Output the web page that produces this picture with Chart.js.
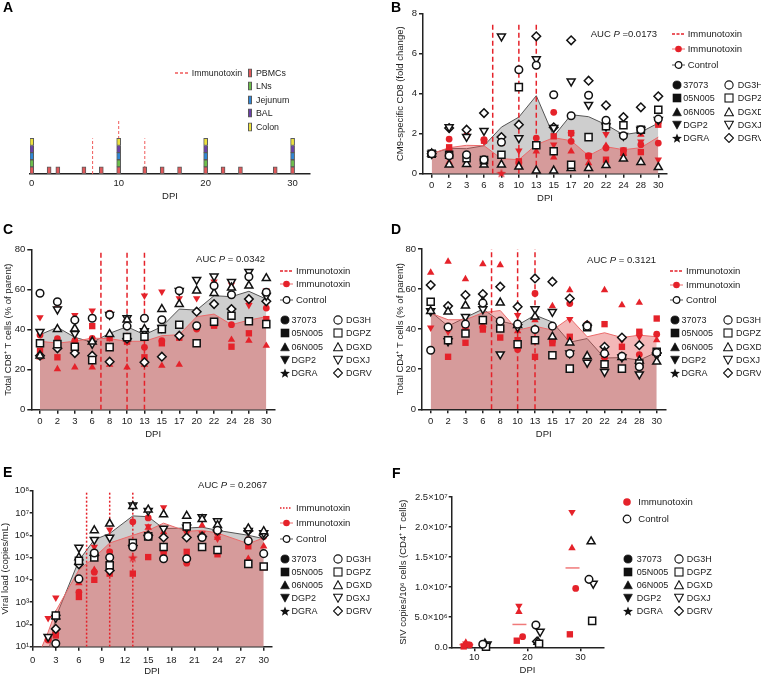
<!DOCTYPE html>
<html>
<head>
<meta charset="utf-8">
<title>Immunotoxin – SIV time course</title>
<script src="https://cdn.jsdelivr.net/npm/chart.js@4.4.1/dist/chart.umd.min.js"></script>
<style>
  html, body { margin: 0; padding: 0; background: #fff; }
  body { position: relative; width: 761px; height: 678px; overflow: hidden;
         font-family: "Liberation Sans", Arial, Helvetica, sans-serif; color: #222; }
  canvas { position: absolute; }
  .t { position: absolute; white-space: nowrap; line-height: 1; font-size: 9.5px; transform: translateY(-50%); }
  .t svg { display: block; }
  .small { font-size: 9px; }
  .tiny { font-size: 8.8px; }
  .right { transform: translate(-100%, -50%); }
  .panel { position: absolute; font-weight: bold; font-size: 14px; line-height: 14px; color: #000; }
</style>
</head>
<body>
<canvas id="chartA" width="380" height="215" style="left:0;top:0"></canvas>
<canvas id="chartB" width="381" height="215" style="left:380px;top:0"></canvas>
<canvas id="chartC" width="380" height="215" style="left:0;top:230px"></canvas>
<canvas id="chartD" width="381" height="215" style="left:380px;top:230px"></canvas>
<canvas id="chartE" width="380" height="218" style="left:0;top:460px"></canvas>
<canvas id="chartF" width="381" height="218" style="left:380px;top:460px"></canvas>

<div class="panel" style="left:3px;top:0">A</div>
<div class="panel" style="left:391px;top:0">B</div>
<div class="panel" style="left:3px;top:222px">C</div>
<div class="panel" style="left:391px;top:222px">D</div>
<div class="panel" style="left:3px;top:465px">E</div>
<div class="panel" style="left:392px;top:466px">F</div>

<script>
// ---- data ----
const days = [0, 2, 3, 6, 8, 10, 13, 15, 17, 20, 22, 24, 28, 30];
const doseDays = [7, 10, 13];
const immunoAnimals = ['37073', '05N005', '06N005', 'DGP2', 'DGRA'];
const controlAnimals = ['DG3H', 'DGPZ', 'DGXD', 'DGXJ', 'DGRV'];

// A: sampling schedule
const tissues = ['PBMCs', 'LNs', 'Jejunum', 'BAL', 'Colon'];
const tissueDays = [days, [0, 10, 20, 30], [0, 10, 20, 30], [0, 10, 20, 30], [0, 10, 20, 30]];

// B: CM9-specific CD8 (fold change); rows follow immunoAnimals / controlAnimals
const bImmuno = [
  [1.0, 1.73, 1.9, 1.7, 1.57, 0.55, 1.78, 3.07, 1.62, 0.9, 1.28, 1.17, 1.45, 1.53],
  [1.0, 1.32, 0.75, 1.65, 1.55, 0.62, 1.42, 1.87, 2.03, 0.88, 0.7, 1.05, 1.08, 2.45],
  [1.0, 0.58, 0.75, 0.53, 0.45, 0.45, 1.12, 0.82, 1.12, 0.53, 1.4, 1.0, 1.95, 2.62],
  [1.0, 1.1, 1.85, 1.6, 0.9, 1.15, 1.45, 1.45, 1.95, 0.85, 1.98, 1.2, 1.6, 0.7],
  [null, null, null, null, 0.03, null, null, null, null, null, null, null, null, null]
];
const bControl = [
  [1.0, 0.9, 0.95, 0.7, 1.57, 5.2, 5.42, 3.95, 2.9, 3.92, 2.67, 1.9, 2.2, 2.73],
  [1.0, 0.95, 0.78, 0.68, 0.95, 4.33, 1.42, 1.12, 0.45, 1.83, 2.37, 2.42, 2.2, 3.2],
  [1.0, 0.45, 0.48, 0.45, 0.45, 0.35, 0.15, 0.15, 0.28, 0.28, 0.42, 0.75, 0.58, 0.32],
  [1.0, 2.33, 1.85, 2.15, 6.87, 1.78, 5.73, 2.3, 4.62, 3.45, 2.37, 1.9, 2.2, 2.7],
  [1.0, 2.28, 2.2, 3.03, 1.83, 2.45, 6.87, 2.32, 6.67, 4.65, 3.42, 2.83, 3.32, 3.87]
];
const bImmunoMean = [1.0, 1.3, 1.42, 1.4, 0.75, 0.7, 1.45, 1.8, 1.65, 0.9, 1.35, 1.2, 1.3, 1.83];
const bControlMean = [1.0, 1.27, 1.25, 1.4, 2.33, 2.83, 3.9, 1.87, 2.95, 2.85, 2.45, 1.95, 2.08, 2.53];

// C: total CD8+ T cells (% of parent)
const cImmuno = [
  [37.3, 35.5, 34.5, 35.7, 48.3, 34.5, 31.2, 34.5, 37, 40.3, 42.5, 42.5, 54.8, 50.8],
  [29.5, 26.2, 33.3, 41.8, 35.8, 34, 26.2, 33.2, 36, 41.5, 42, 31.5, 38.2, 45.3],
  [26.2, 20.3, 21.2, 21.2, 22.5, 21.2, 22.5, 22, 22.5, 41, 42.5, 35, 34.5, 32],
  [46.2, 50.7, 47.3, 49.5, 36, 44, 57, 59, 55.7, 55.7, 64, 62.5, 52.3, 59.5],
  [null, null, null, null, null, null, null, null, null, null, null, null, null, null]
];
const cControl = [
  [58.2, 54, 44.8, 45.7, 47.5, 41.8, 45.7, 45, 59.5, 42, 62, 57.5, 66.5, 58.7],
  [33.2, 32.8, 31.5, 24.8, 31.3, 36.3, 36.5, 40.3, 42.5, 33.2, 44, 47, 44.2, 42.8],
  [27, 40.3, 40.5, 34, 37.8, 45, 40.3, 50.3, 52.8, 59.5, 58.3, 61, 62, 65.7],
  [39, 50.2, 38, 33, 47.5, 45.8, 39.3, 41, 59.5, 65, 66.7, 64, 69, 57],
  [27, 30.7, 28.3, 27, 24, 35.5, 23.7, 26.5, 37, 49, 52.8, 50.3, 55.3, 54.2]
];
const cImmunoMean = [34.2, 33.3, 34.2, 35.8, 35.5, 34.2, 34.2, 37, 37.5, 46.5, 47.8, 42.5, 44.8, 46.5];
const cControlMean = [37.5, 41.2, 36.2, 33.7, 38.2, 41.5, 37.5, 41.5, 50.3, 49.8, 57, 56.5, 59.2, 55.3];

// D: total CD4+ T cells (% of parent)
const dImmuno = [
  [29.5, 41.5, 40.8, 41, 40.5, 29.8, 57.8, 34, 52.8, 42.5, 26.2, 26.5, 27.3, 37.5],
  [53.5, 26.2, 33.2, 39.8, 35.8, 34.5, 26.2, 33, 36.2, 41, 42.5, 31.2, 38.7, 45.3],
  [68.2, 73.7, 65, 72.5, 72, 39, 44.5, 51.5, 59.5, 42, 59.5, 52, 53.2, 34.5],
  [40.7, 38.7, 41.5, 40.5, 40.3, 47, 33.7, 34, 45, 41.5, 24.5, 34.5, 36.2, 27],
  [null, null, null, null, null, null, null, null, null, null, null, null, null, null]
];
const dControl = [
  [29.5, 41, 42.5, 53, 44, 42.5, 39.8, 41.5, 27.8, 41.5, 27.8, 26.5, 21.2, 28.3],
  [53.7, 34.5, 37.8, 44.5, 40.3, 32.5, 34.5, 27, 20.3, 41, 22.5, 20.3, 22.8, 28.7],
  [49, 48.7, 51.7, 53.7, 53.2, 42, 46.2, 36.2, 33.3, 26.5, 28.7, 26, 24.2, 23.7],
  [49, 34, 46.2, 50, 27.5, 41, 50, 48.7, 28, 23.3, 18.7, 26, 17.5, 27],
  [62, 51.5, 57, 57.5, 61.2, 51.2, 65.3, 63.7, 55.3, 42, 31.2, 35.8, 32, 28]
];
const dImmunoMean = [48, 44.7, 44.7, 48.2, 49.3, 39.5, 41.5, 39.5, 45.6, 36.2, 38.2, 35.8, 37, 36.2];
const dControlMean = [48.7, 41.5, 45.8, 50, 44, 42, 47, 43.5, 33.5, 35.3, 25.6, 25.8, 24.5, 28.5];

// E: viral load (copies/mL)
const eDays = [0, 2, 3, 6, 8, 10, 13, 15, 17, 20, 22, 24, 28, 30];
const eImmuno = [
  [null, 20, 40, 2.8e3, 2.2e4, 1.8e5, 4.0e6, 6.0e6, 2.0e5, 5.6e4, 8.3e5, 1.26e6, 6.3e5, 8.9e5],
  [null, 25, 32, 1.7e3, 1.0e4, 1.9e4, 1.9e4, 1.05e5, 1.4e5, 1.8e5, 2.8e5, 1.4e5, 3.2e5, 3.7e4],
  [null, null, 63, 7.1e3, 2.8e4, 5.2e4, 4.0e5, 2.2e6, 1.4e6, 2.0e6, 2.8e6, 7.9e5, 8.9e4, 3.2e5],
  [null, 190, 1.6e3, 5.6e4, 3.0e5, 1.8e6, 5.0e5, 2.5e6, 1.8e7, 1.26e6, 1.2e6, 7.1e5, 4.0e5, 1.2e6],
  [null, null, null, null, null, 5.6e4, 1.0e5, null, null, null, null, null, null, null]
];
const eControl = [
  [null, null, 14, 1.1e4, 1.6e5, 1.0e5, 3.0e5, 8.9e5, 8.9e4, 8.9e4, 7.9e5, 1.66e6, 5.6e5, 1.5e5],
  [null, null, 250, 7.1e4, 1.0e5, 4.5e4, 4.5e5, 8.9e5, 3.0e5, 2.5e6, 3.0e5, 2.2e5, 5.2e4, 4.0e4],
  [null, null, 230, 1.0e5, 1.66e6, 3.3e6, 2.0e7, 1.4e7, 8.5e6, 7.4e6, 5.2e6, 2.8e6, 2.0e6, 1.5e6],
  [null, 28, 200, 2.8e5, 6.3e5, 8.0e5, 2.2e7, 1.26e7, 2.0e6, 2.2e6, 6.6e6, 4.3e6, 1.6e6, 1.26e6],
  [null, null, 63, 5.0e4, 1.26e5, 2.6e4, 3.5e5, 1.0e6, 8.0e5, 8.0e5, 8.9e5, 1.6e6, 1.6e6, 1.0e6]
];
const eImmunoMean = [1, 45, 400, 2.8e4, 1.0e5, 4.5e5, 1.0e6, 1.66e6, 3.5e6, 1.5e6, 1.66e6, 1.26e6, 4.2e5, 7.6e5];
const eControlMean = [1, 5, 210, 7.4e4, 6.3e5, 1.2e6, 7.4e6, 6.8e6, 2.0e6, 2.1e6, 2.3e6, 1.66e6, 1.0e6, 7.0e5];
const eTicks = [1e1, 1e2, 1e3, 1e4, 1e5, 1e6, 1e7, 1e8];
const eDayTicks = [0, 3, 6, 9, 12, 15, 18, 21, 24, 27, 30];

// F: SIV copies / 10^6 CD4+ T cells
const fDays = [10, 20, 30];
const fImmuno = [
  [4.0e5, 1.77e6, 9.8e6],
  [1.5e5, 1.1e6, 2.16e6],
  [8.0e5, 5.9e6, 1.65e7],
  [6.0e5, 6.9e6, 2.25e7],
  [null, null, null]
];
const fControl = [
  [5.0e5, 3.7e6, 1.13e7],
  [1.0e5, 6.0e5, 4.4e6],
  [6.0e5, 9.0e5, 1.76e7],
  [5.0e5, 2.6e6, 1.06e7],
  [3.5e5, 9.5e5, null]
];
const fImmunoMean = [4.5e5, 3.8e6, 1.32e7];
const fTicks = [0, 5e6, 1e7, 1.5e7, 2e7, 2.5e7];

// ---- styling ----
const INK = '#222';
const RED = '#e5222a';
const RED_LINE = '#eb6a6a';
const RED_FILL = 'rgba(226, 86, 86, 0.42)';
const GREY_FILL = '#cecece';
const GREY_LINE = '#555';
const tissueColors = ['#e0585a', '#6cbf4b', '#2f86d6', '#6a40a8', '#ece23c'];

Chart.defaults.font.family = '"Liberation Sans", Arial, Helvetica, sans-serif';
Chart.defaults.font.size = 9.5;
Chart.defaults.color = INK;

const SUP = {'0': '⁰', '1': '¹', '2': '²', '3': '³', '4': '⁴', '5': '⁵', '6': '⁶', '7': '⁷', '8': '⁸', '9': '⁹'};
const sup = n => String(n).split('').map(c => SUP[c]).join('');

function starCanvas(size, color) {
  const c = document.createElement('canvas');
  c.width = c.height = size;
  const g = c.getContext('2d');
  g.fillStyle = color;
  g.beginPath();
  for (let i = 0; i < 10; i++) {
    const r = i % 2 ? size * 0.21 : size * 0.5;
    const a = -Math.PI / 2 + i * Math.PI / 5;
    g.lineTo(size / 2 + r * Math.cos(a), size / 2 + 0.5 + r * Math.sin(a));
  }
  g.closePath();
  g.fill();
  return c;
}

const immunoShapes = [
  {pointStyle: 'circle', pointRadius: 3.4},
  {pointStyle: 'rect', pointRadius: 4.5},
  {pointStyle: 'triangle', pointRadius: 4.3},
  {pointStyle: 'triangle', pointRadius: 4.3, pointRotation: 180},
  {pointStyle: starCanvas(10, RED), pointRadius: 5}
];
const controlShapes = [
  {pointStyle: 'circle', pointRadius: 3.8},
  {pointStyle: 'rect', pointRadius: 5},
  {pointStyle: 'triangle', pointRadius: 4.6},
  {pointStyle: 'triangle', pointRadius: 4.6, pointRotation: 180},
  {pointStyle: 'rectRot', pointRadius: 4.3}
];

function dayToIndex(d) {
  for (let i = 0; i < days.length - 1; i++) {
    if (d >= days[i] && d <= days[i + 1]) return i + (d - days[i]) / (days[i + 1] - days[i]);
  }
  return days.length - 1;
}

function pointSet(values, xs, shape, immuno) {
  const data = [];
  values.forEach((v, i) => { if (v !== null) data.push({x: xs[i], y: v}); });
  return Object.assign({
    type: 'line', data, showLine: false, clip: false,
    pointBackgroundColor: immuno ? RED : '#fff',
    pointBorderColor: immuno ? RED : '#111',
    pointBorderWidth: immuno ? 0 : 1.5,
    order: immuno ? 1 : 0
  }, shape);
}

function areaSet(values, xs, fillColor, lineColor, order) {
  return {
    type: 'line', data: values.map((v, i) => ({x: xs[i], y: v})),
    fill: 'start', backgroundColor: fillColor, borderColor: lineColor,
    borderWidth: 1, pointRadius: 0, tension: 0, order
  };
}

function doseSet(x, y0, y1, dash, width, color) {
  return {
    type: 'line', data: [{x, y: y0}, {x, y: y1}], borderColor: color,
    borderWidth: width, borderDash: dash, pointRadius: 0, fill: false, order: 2
  };
}

function axis(o) {
  const bottom = o.position === 'bottom';
  return {
    type: o.type || 'linear', position: o.position, min: o.min, max: o.max, offset: false,
    border: {display: true, color: INK, width: 1.5},
    grid: {drawOnChartArea: false, drawTicks: o.tick !== 0, tickLength: o.tick === undefined ? 4 : o.tick,
           color: INK, lineWidth: 1.5, offset: false},
    ticks: {color: INK, font: {size: 9.5}, padding: o.pad === undefined ? 2 : o.pad,
            maxRotation: 0, autoSkip: false, callback: o.label || (v => v)},
    afterBuildTicks: a => { a.ticks = o.ticks.map(value => ({value})); },
    afterFit: a => { if (bottom) a.height = o.size; else a.width = o.size; },
    title: {display: true, text: o.title, color: INK, font: {size: 9.5},
            padding: bottom ? {top: 0, bottom: 0} : {top: o.tpad || 0, bottom: 0}}
  };
}

function options(padding, scales) {
  return {
    responsive: false, animation: false, devicePixelRatio: 1, events: [],
    layout: {padding},
    plugins: {legend: {display: false}, tooltip: {enabled: false}},
    scales
  };
}

// ---- panel A ----
const aSets = tissues.map((name, t) => ({
  type: 'bar', label: name,
  data: tissueDays[t].map(d => ({x: d, y: 1})),
  backgroundColor: tissueColors[t], borderColor: '#5a5a5a', borderWidth: 1, borderSkipped: false,
  barThickness: 4, stack: 'samples', order: 1
}));
const doseMarkHeights = [5, 7.5, 5];
doseDays.forEach((d, i) => {
  const s = doseSet(d, 0, doseMarkHeights[i], [3, 2], 1, '#f05a5a');
  s.stack = 'dose' + i;
  aSets.push(s);
});
const aX = axis({position: 'bottom', min: -0.2, max: 32, ticks: [0, 10, 20, 30], tick: 0, pad: 4, size: 28.4, title: 'DPI'});
aX.stacked = true;
new Chart(document.getElementById('chartA'), {
  type: 'bar',
  data: {datasets: aSets},
  options: options({left: 30, right: 70, top: 117, bottom: 12.6},
    {x: aX, y: {display: false, min: 0, max: 8, stacked: true}})
});

// ---- panels B, C, D, E ----
function timeCourse(id, p) {
  const sets = [
    areaSet(p.controlMean, p.xs, GREY_FILL, GREY_LINE, 4),
    areaSet(p.immunoMean, p.xs, RED_FILL, RED_LINE, 3)
  ];
  doseDays.forEach(d => sets.push(doseSet(p.doseX(d), p.yMin, p.doseTop, p.dash, 1.5, RED)));
  p.immuno.forEach((row, a) => sets.push(pointSet(row, p.xs, immunoShapes[a], true)));
  p.control.forEach((row, a) => sets.push(pointSet(row, p.xs, controlShapes[a], false)));
  new Chart(document.getElementById(id), {
    type: 'line',
    data: {datasets: sets},
    options: options(p.padding, {x: p.x, y: p.y})
  });
}

const idx = days.map((d, i) => i);
const dayLabel = v => days[v];

timeCourse('chartB', {
  xs: idx, doseX: dayToIndex, yMin: 0, doseTop: 7.55, dash: [5, 3],
  immuno: bImmuno, control: bControl, immunoMean: bImmunoMean, controlMean: bControlMean,
  padding: {left: 0, right: 94, top: 13.7, bottom: 11},
  x: axis({position: 'bottom', min: -0.5, max: 13.5, ticks: idx, label: dayLabel, pad: 2.1, size: 30.3, title: 'DPI'}),
  y: axis({position: 'left', min: 0, max: 8, ticks: [0, 2, 4, 6, 8], size: 43, tpad: 14.3,
           title: 'CM9-specific CD8 (fold change)'})
});

timeCourse('chartC', {
  xs: idx, doseX: dayToIndex, yMin: 0, doseTop: 80, dash: [5, 3],
  immuno: cImmuno, control: cControl, immunoMean: cImmunoMean, controlMean: cControlMean,
  padding: {left: 0, right: 105, top: 19.7, bottom: 5.3},
  x: axis({position: 'bottom', min: -0.5, max: 13.5, ticks: idx, label: dayLabel, pad: 2.1, size: 30, title: 'DPI'}),
  y: axis({position: 'left', min: 0, max: 80, ticks: [0, 20, 40, 60, 80], size: 31.3, tpad: 2.6,
           title: 'Total CD8⁺ T cells (% of parent)'})
});

timeCourse('chartD', {
  xs: idx, doseX: dayToIndex, yMin: 0, doseTop: 80, dash: [5, 3],
  immuno: dImmuno, control: dControl, immunoMean: dImmunoMean, controlMean: dControlMean,
  padding: {left: 0, right: 95.6, top: 19, bottom: 5.3},
  x: axis({position: 'bottom', min: -0.5, max: 13.5, ticks: idx, label: dayLabel, pad: 2.2, size: 30.4, title: 'DPI'}),
  y: axis({position: 'left', min: 0, max: 80, ticks: [0, 20, 40, 60, 80], size: 42, tpad: 14.3,
           title: 'Total CD4⁺ T cells (% of parent)'})
});

timeCourse('chartE', {
  xs: eDays, doseX: d => d, yMin: 10, doseTop: 1e8, dash: [2, 2],
  immuno: eImmuno, control: eControl, immunoMean: eImmunoMean, controlMean: eControlMean,
  padding: {left: 0, right: 108.6, top: 30.7, bottom: 0.6},
  x: axis({position: 'bottom', min: 0, max: 31, ticks: eDayTicks, pad: 4.1, size: 30.7, title: 'DPI'}),
  y: axis({position: 'left', type: 'logarithmic', min: 10, max: 1e8, ticks: eTicks, tick: 3, pad: 0.5,
           label: v => '10' + sup(Math.round(Math.log10(v))), size: 32.7, tpad: 0,
           title: 'Viral load (copies/mL)'})
});

// ---- panel F ----
const fImmunoOffset = [-0.9, -2.0, -1.6, -1.6, -1.4];
const fControlOffset = [1.6, 2.2, 2.0, 2.4, 1.8];
const fMeanOffset = -1.5;
const fSets = [];
fImmuno.forEach((row, a) => fSets.push(pointSet(row, fDays.map(d => d + fImmunoOffset[a]), immunoShapes[a], true)));
fControl.forEach((row, a) => fSets.push(pointSet(row, fDays.map(d => d + fControlOffset[a]), controlShapes[a], false)));
fSets.push({
  type: 'line', showLine: false, clip: false, order: 2,
  data: fImmunoMean.map((v, i) => ({x: fDays[i] + fMeanOffset, y: v})),
  pointStyle: 'line', pointRadius: 7, pointBorderColor: '#f07a7a', pointBorderWidth: 1.5
});
const fLabel = v => {
  if (v === 0) return '0.0';
  const e = Math.floor(Math.log10(v) + 1e-9);
  return (v / Math.pow(10, e)).toFixed(1) + '×10' + sup(e);
};
new Chart(document.getElementById('chartF'), {
  type: 'line',
  data: {datasets: fSets},
  options: options({left: 0, right: 157.7, top: 37, bottom: 1.6}, {
    x: axis({position: 'bottom', min: 5.74, max: 34.3, ticks: fDays, pad: 0.7, size: 29.1, title: 'DPI'}),
    y: axis({position: 'left', min: 0, max: 2.5e7, ticks: fTicks, tick: 3, pad: 1, label: fLabel,
             size: 71.7, tpad: 17.3, title: 'SIV copies/10⁶ cells (CD4⁺ T cells)'})
  })
});

// ---- HTML legends and notes ----
function put(html, x, y, cls) {
  const el = document.createElement('div');
  el.className = 't ' + (cls || '');
  el.style.left = x + 'px';
  el.style.top = y + 'px';
  el.innerHTML = html;
  document.body.appendChild(el);
  return el;
}

function shapeSvg(k, filled, s) {
  const fill = filled ? '#111' : '#fff';
  const attr = `fill="${fill}" stroke="#111" stroke-width="${filled ? 0.6 : 1.1}"`;
  let el;
  if (k === 0) el = `<circle cx="${s / 2}" cy="${s / 2}" r="${s / 2 - 0.9}" ${attr}/>`;
  else if (k === 1) el = `<rect x="1" y="1" width="${s - 2}" height="${s - 2}" ${attr}/>`;
  else if (k === 2) el = `<polygon points="${s / 2},0.8 ${s - 0.6},${s - 1.2} 0.6,${s - 1.2}" ${attr}/>`;
  else if (k === 3) el = `<polygon points="0.6,1.2 ${s - 0.6},1.2 ${s / 2},${s - 0.8}" ${attr}/>`;
  else if (filled) {
    const pts = [];
    for (let i = 0; i < 10; i++) {
      const r = i % 2 ? s * 0.22 : s * 0.52;
      const a = -Math.PI / 2 + i * Math.PI / 5;
      pts.push((s / 2 + r * Math.cos(a)).toFixed(2) + ',' + (s / 2 + 0.6 + r * Math.sin(a)).toFixed(2));
    }
    el = `<polygon points="${pts.join(' ')}" fill="#111"/>`;
  } else el = `<polygon points="${s / 2},0.5 ${s - 0.5},${s / 2} ${s / 2},${s - 0.5} 0.5,${s / 2}" ${attr}/>`;
  return `<svg width="${s}" height="${s}" viewBox="0 0 ${s} ${s}">${el}</svg>`;
}

const dashSvg = (w, dash, color) =>
  `<svg width="${w}" height="4"><line x1="0" y1="2" x2="${w}" y2="2" stroke="${color}" stroke-width="1.3" stroke-dasharray="${dash}"/></svg>`;
const lineDotSvg = (line, fill, stroke, sw) =>
  `<svg width="13" height="9"><line x1="0" y1="4.5" x2="13" y2="4.5" stroke="${line}" stroke-width="1"/>` +
  `<circle cx="6.5" cy="4.5" r="3.3" fill="${fill}" stroke="${stroke}" stroke-width="${sw}"/></svg>`;
const dotSvg = (fill, stroke, sw) =>
  `<svg width="10" height="10"><circle cx="5" cy="5" r="3.8" fill="${fill}" stroke="${stroke}" stroke-width="${sw}"/></svg>`;

function shapeLegend(m1, t1, m2, t2, y0, step) {
  immunoAnimals.forEach((name, k) => {
    const y = y0 + k * step;
    put(shapeSvg(k, true, 10), m1 - 5, y);
    put(name, t1, y, 'small');
    put(shapeSvg(k, false, 10), m2 - 5, y);
    put(controlAnimals[k], t2, y, 'small');
  });
}

function courseLegend(x0, yDash, yRed, yCtrl, yShapes, step, dash) {
  put(dashSvg(12, dash, RED), x0, yDash);
  put('Immunotoxin', x0 + 16, yDash);
  put(lineDotSvg(RED_LINE, RED, RED, 0), x0, yRed);
  put('Immunotoxin', x0 + 16, yRed);
  put(lineDotSvg(GREY_LINE, '#fff', '#111', 1.2), x0, yCtrl);
  put('Control', x0 + 16, yCtrl);
  shapeLegend(x0 + 5, x0 + 11.5, x0 + 57.5, x0 + 66, yShapes, step);
}

courseLegend(671.7, 34.3, 49.3, 65, 85, 13.3, '3,1.5');
courseLegend(280, 271, 284.3, 300, 320, 13.3, '3,1.5');
courseLegend(670, 271, 284.7, 300.3, 320, 13.3, '3,1.5');
courseLegend(280, 508.3, 522.7, 538.7, 558.7, 13.15, '1.5,1.5');

put('AUC <i>P</i> =0.0173', 657, 34, 'right');
put('AUC <i>P</i> = 0.0342', 265, 259.3, 'right');
put('AUC <i>P</i> = 0.3121', 656, 260, 'right');
put('AUC <i>P</i> = 0.2067', 267, 485, 'right');

// F legend
put(dotSvg(RED, RED, 0), 622.3, 501.7);
put('Immunotoxin', 638.3, 501.7);
put(dotSvg('#fff', '#111', 1.2), 622.3, 519.3);
put('Control', 638.3, 519.3);
shapeLegend(628.3, 636.7, 679, 686.7, 559, 12.9);

// A legend
put(dashSvg(13, '3,2', '#f05a5a'), 175, 72.7);
put('Immunotoxin', 191.7, 72.7, 'tiny');
tissues.forEach((name, t) => {
  const y = 72.7 + t * 13.5;
  put(`<svg width="4" height="9"><rect x="0.5" y="0.5" width="3" height="8" fill="${tissueColors[t]}" stroke="#5a5a5a" stroke-width="1"/></svg>`, 247.5, y);
  put(name, 256, y, 'tiny');
});
</script>
</body>
</html>
